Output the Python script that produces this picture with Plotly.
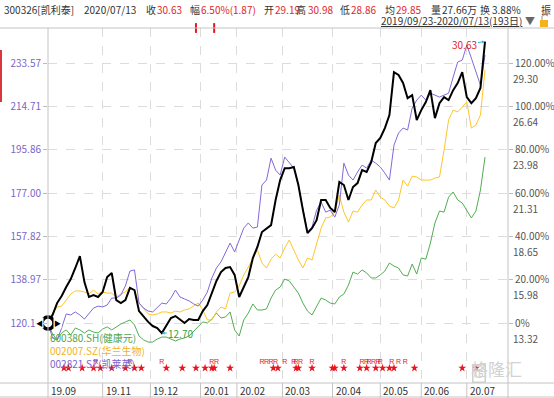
import plotly.graph_objects as go

# ---------------- data (percent change since 2019/09/23, sampled every 2 trading days) ----------------
sample_idx = list(range(0, 193, 2))

kelitai_pct = [  # 300326 凯利泰 (black)
    0, 3.7, 9.2, 12.5, 16.6, 20.3, 25.4, 30.9, 18.9, 12.0,
    12.9, 12.0, 14.3, 21.2, 23.1, 10.6, 9.2, 10.6, 16.2, 15.2,
    5.5, 2.8, 0.5, -1.4, -2.3, -4.65, -0.9, 2.3, 3.2, 1.4,
    0.0, 1.8, 1.4, 1.4, 5.5, 8.3, 14.3, 19.4, 23.5, 25.4,
    25.8, 22.2, 12.0, 16.6, 21.2, 30.0, 35.1, 42.0, 43.4, 45.2,
    56.8, 66.0, 71.5, 71.5, 72.0, 63.7, 52.1, 41.5, 43.8, 47.5,
    56.8, 56.8, 53.1, 51.2, 65.1, 63.7, 56.8, 62.8, 64.6, 70.6,
    69.7, 74.3, 83.1, 85.4, 90.0, 96.0, 115.8, 114.5, 110.8, 103.8,
    105.2, 93.7, 98.3, 102.0, 107.5, 94.6, 101.5, 104.3, 102.9, 107.5,
    110.8, 115.8, 104.3, 101.5, 103.8, 108.5, 129.95,
]
kailaiying_pct = [  # 002821.SZ 凯莱英 (purple)
    0, -6.9, -7.8, -2.3, 4.2, 3.7, 5.1, 3.7, 1.8, 4.2,
    6.9, 7.8, 7.4, 8.3, 11.5, 11.5, 12.9, 17.1, 24.0, 24.5,
    9.2, 6.9, 5.5, 5.1, 7.4, 9.2, 8.8, 11.5, 15.2, 12.0,
    11.1, 10.2, 8.8, 7.8, 10.6, 14.3, 20.8, 25.4, 28.2, 32.3,
    36.9, 32.8, 38.3, 43.8, 46.2, 43.8, 44.3, 63.7, 66.0, 76.1,
    70.6, 68.3, 76.6, 74.3, 71.5, 63.7, 52.1, 42.0, 44.3, 52.1,
    55.8, 51.2, 52.1, 48.9, 54.5, 73.8, 68.3, 66.0, 69.7, 72.9,
    71.5, 75.2, 73.8, 72.0, 69.2, 66.0, 82.1, 87.7, 90.0, 89.1,
    99.2, 102.9, 105.2, 102.9, 106.1, 105.2, 104.3, 105.2, 106.1, 113.5,
    120.5, 121.4, 128.3, 122.3, 115.8, 109.8, 123.7,
]
hualan_pct = [  # 002007.SZ 华兰生物 (yellow)
    0, 4.6, 7.4, 7.8, 10.6, 13.4, 14.8, 14.8, 14.3, 13.4,
    15.2, 13.4, 14.3, 13.8, 13.8, 12.0, 13.4, 14.3, 16.6, 15.2,
    9.2, 6.5, 4.2, 3.7, 4.2, 5.1, 5.1, 4.6, 5.5, 5.1,
    6.0, 6.5, 7.8, 9.2, 6.0, 1.4, 1.4, 5.1, 7.4, 6.5,
    13.8, 14.3, 17.1, 22.2, 25.8, 30.0, 33.7, 27.7, 25.4, 29.5,
    31.8, 30.0, 34.6, 38.3, 33.7, 29.1, 25.4, 30.0, 29.1, 36.0,
    43.8, 48.5, 48.9, 51.2, 59.1, 51.2, 46.6, 51.7, 51.2, 54.5,
    56.8, 56.8, 61.4, 58.1, 56.8, 54.0, 53.1, 56.8, 66.0, 63.2,
    67.8, 67.4, 66.0, 66.0, 66.0, 66.9, 67.4, 79.8, 93.7, 98.3,
    97.4, 99.7, 102.0, 90.0, 91.4, 96.0, 116.8,
]
jiankangyuan_pct = [  # 600380.SH 健康元 (green)
    0, -5.1, -7.8, -4.6, -3.2, -5.5, -2.3, -3.2, -4.6, -3.2,
    -4.2, -4.6, -2.8, -1.8, -3.2, -1.8, -0.5, 0.5, 1.4, -0.9,
    -6.0, -7.8, -8.8, -8.8, -7.4, -6.5, -6.5, -7.4, -8.3, -7.4,
    -6.9, -6.0, -3.7, -1.8, 0.5, 0.0, 1.8, 4.6, 2.3, 2.8,
    5.1, -3.2, -6.0, 1.4, 4.6, 8.8, 6.0, 6.0, 6.5, 11.5,
    15.2, 16.6, 20.3, 19.4, 16.6, 13.8, 9.2, 5.5, 3.7, 7.4,
    11.5, 10.6, 9.2, 8.8, 12.0, 13.4, 17.5, 23.5, 22.6, 24.5,
    23.1, 20.8, 20.8, 22.2, 24.0, 27.7, 26.3, 25.4, 22.2, 21.7,
    27.2, 22.6, 30.0, 29.5, 36.9, 46.2, 51.7, 51.2, 58.1, 60.5,
    56.8, 55.4, 52.1, 48.5, 51.7, 61.4, 76.6,
]

month_idx = [0, 24, 45, 67, 83, 103, 125, 146, 164, 184]
month_labels = ["19.09", "19.11", "19.12", "20.01", "20.02", "20.03", "20.04", "20.05", "20.06", "20.07"]

grid_pct = [0, 20, 40, 60, 80, 100, 120]
left_labels = ["120.10", "138.97", "157.82", "177.00", "195.86", "214.71", "233.57"]
pct_labels = ["0%", "20.00%", "40.00%", "60.00%", "80.00%", "100.00%", "120.00%"]
price_labels = ["13.32", "15.98", "18.65", "21.31", "23.98", "26.64", "29.30"]

star_idx = [7, 9, 15, 20, 23, 28, 34, 38, 41, 52, 59, 65, 69, 72, 73, 80, 99, 101, 109, 110,
            116, 125, 126, 130, 137, 140, 144, 147, 150, 152, 161, 182, 188]
r_idx = [21, 36, 50, 72, 74, 94, 96, 98, 100, 104, 108, 109, 111, 116, 130, 138, 140, 141, 143,
         145, 146, 151, 154, 157]
top_mark_idx = [65, 73]

max_label, min_label = "30.63", "12.70"

header_items = [  # (text, color, left px)
    ("300326[凯利泰]", "#333333", 2), ("2020/07/13", "#333333", 82),
    ("收", "#333333", 144), ("30.63", "#e0262b", 155),
    ("幅", "#333333", 188), ("6.50%(1.87)", "#e0262b", 199),
    ("开", "#333333", 262), ("29.19", "#e0262b", 273),
    ("高", "#333333", 294), ("30.98", "#e0262b", 306),
    ("低", "#333333", 338), ("28.86", "#e0262b", 349),
    ("均", "#333333", 383), ("29.85", "#e0262b", 394),
    ("量", "#333333", 429), ("27.66万", "#333333", 440),
    ("换", "#333333", 478), ("3.88%", "#333333", 490),
    ("振", "#333333", 539),
]
legend_items = [("600380.SH(健康元)", "#4fa64f"), ("002007.SZ(华兰生物)", "#f0b41c"), ("002821.SZ(凯莱英)", "#7a62cc")]

# ---------------- layout geometry ----------------
W, H = 554, 398
L, R, T, B = 48, 46, 28, 15
PW, PH = W - L - R, H - T - B
Y_RANGE = [-27.7, 136.2]
X_RANGE = [0, 202.1]
STAR_Y, R_Y = -20.8, -17.9
FONT = "Noto Sans CJK SC, Noto Sans, sans-serif"


def xp(px):
    return (px - L) / PW


def yp(py):
    return (H - B - py) / PH


C_BLACK, C_PURPLE, C_YELLOW, C_GREEN = "#000000", "#8468d8", "#ffc629", "#53ad53"
GRID = "#dcdcdc"
AXIS = "#c4c4c4"

fig = go.Figure()
fig.add_trace(go.Scatter(x=sample_idx, y=jiankangyuan_pct, mode="lines", line=dict(color=C_GREEN, width=1), name="600380.SH"))
fig.add_trace(go.Scatter(x=sample_idx, y=hualan_pct, mode="lines", line=dict(color=C_YELLOW, width=1), name="002007.SZ"))
fig.add_trace(go.Scatter(x=sample_idx, y=kailaiying_pct, mode="lines", line=dict(color=C_PURPLE, width=1), name="002821.SZ"))
fig.add_trace(go.Scatter(x=sample_idx, y=kelitai_pct, mode="lines", line=dict(color=C_BLACK, width=2), name="300326"))

# event markers
fig.add_trace(go.Scatter(x=star_idx, y=[STAR_Y] * len(star_idx), mode="markers",
                         marker=dict(symbol="star", size=6, color="#e8141e", line=dict(width=0))))
fig.add_trace(go.Scatter(x=r_idx, y=[R_Y] * len(r_idx), mode="text", text=["R"] * len(r_idx),
                         textfont=dict(size=7, color="#e8141e", family="Liberation Sans")))
fig.add_trace(go.Scatter(x=top_mark_idx, y=[Y_RANGE[1]] * len(top_mark_idx), mode="markers", cliponaxis=False,
                         marker=dict(symbol="line-ns", size=7, line=dict(color="#e8141e", width=2))))
# start ring
fig.add_trace(go.Scatter(x=[sample_idx[0]], y=[kelitai_pct[0]], mode="markers", cliponaxis=False,
                         marker=dict(symbol="circle", size=12, color="white", line=dict(color="black", width=3.5))))
# dummy trace so that the right axis is drawn
fig.add_trace(go.Scatter(x=[sample_idx[0]], y=[0], yaxis="y2", mode="markers", marker=dict(opacity=0),
                         hoverinfo="skip"))

annotations = []
# header
for text, color, px in header_items:
    annotations.append(dict(text=text, x=xp(px), y=yp(9), xref="paper", yref="paper", xanchor="left",
                            yanchor="middle", showarrow=False, font=dict(size=10, color=color, family=FONT)))
annotations.append(dict(text="<u>2019/09/23-2020/07/13(193日)</u>", x=xp(524), y=yp(20), xref="paper", yref="paper",
                        xanchor="right", yanchor="middle", showarrow=False,
                        font=dict(size=10, color="#333333", family=FONT)))
annotations.append(dict(text="▼", x=xp(530), y=yp(20), xref="paper", yref="paper", xanchor="center",
                        yanchor="middle", showarrow=False, font=dict(size=10, color="#666666")))
# month labels
for i, lab in zip(month_idx, month_labels):
    annotations.append(dict(text=lab, x=i, y=yp(390), xref="x", yref="paper", xanchor="left", yanchor="middle",
                            xshift=1, showarrow=False, font=dict(size=10, color="#333333", family=FONT)))
# right price labels
for v, lab in zip(grid_pct, price_labels):
    annotations.append(dict(text=lab, x=1, y=v, xref="paper", yref="y", xanchor="left", yanchor="middle",
                            xshift=3, yshift=-15, showarrow=False, font=dict(size=10, color="#555555", family=FONT)))
# legend labels
for k, (text, color) in enumerate(legend_items):
    annotations.append(dict(text=text, x=0, y=yp(337 + 13 * k), xref="paper", yref="paper", xanchor="left",
                            yanchor="middle", showarrow=False, font=dict(size=10, color=color, family=FONT)))
# max / min labels
imax = kelitai_pct.index(max(kelitai_pct))
imin = kelitai_pct.index(min(kelitai_pct))
annotations.append(dict(text=max_label, x=sample_idx[imax], y=kelitai_pct[imax], xref="x", yref="y",
                        ax=-21, ay=3, showarrow=True, arrowhead=2, arrowsize=0.6, arrowwidth=1,
                        arrowcolor="#35b7d6", font=dict(size=10, color="#e0262b", family=FONT)))
annotations.append(dict(text=min_label, x=sample_idx[imin], y=kelitai_pct[imin], xref="x", yref="y",
                        ax=19, ay=0, showarrow=True, arrowhead=2, arrowsize=0.6, arrowwidth=1,
                        arrowcolor="#35b7d6", font=dict(size=10, color="#3aa04a", family=FONT)))
# start ring side arrows
for sh, sym in ((-9, "◀"), (9, "▶")):
    annotations.append(dict(text=sym, x=sample_idx[0], y=kelitai_pct[0], xref="x", yref="y", xshift=sh,
                            showarrow=False, bgcolor="white", borderpad=0,
                            font=dict(size=7, color="black")))
# watermark
annotations.append(dict(text="G", x=xp(486), y=yp(383), xref="paper", yref="paper", showarrow=False,
                        bordercolor="#cfcfcf", borderwidth=1.5, borderpad=1,
                        font=dict(size=12, color="#cfcfcf", family="Liberation Sans")))
annotations.append(dict(text="格隆汇", x=xp(524), y=yp(383), xref="paper", yref="paper", showarrow=False,
                        font=dict(size=17, color="#d2d2d2", family=FONT)))

shapes = []
line_style = dict(color=AXIS, width=1)
# top separator, bottom border, axis-band line
for py in (28, 383, 397):
    shapes.append(dict(type="line", xref="paper", yref="paper", x0=xp(0), x1=xp(W), y0=yp(py), y1=yp(py), line=line_style))
# left and right frame lines running down through the label band
for px in (48, 508):
    shapes.append(dict(type="line", xref="paper", yref="paper", x0=xp(px), x1=xp(px), y0=yp(398), y1=yp(28), line=line_style))
# separators in the date band
for i in month_idx[1:]:
    shapes.append(dict(type="line", xref="x", yref="paper", x0=i, x1=i, y0=yp(398), y1=yp(383), line=line_style))
# red bar on left edge
shapes.append(dict(type="rect", xref="paper", yref="paper", x0=xp(0), x1=xp(2), y0=yp(102), y1=yp(50),
                   line=dict(width=0), fillcolor="#d9363e"))
# lock icon
shapes.append(dict(type="rect", xref="paper", yref="paper", x0=xp(540), x1=xp(548), y0=yp(27), y1=yp(20),
                   line=dict(width=0), fillcolor="#f5b21c"))
shapes.append(dict(type="path", xref="paper", yref="paper",
                   path=f"M {xp(542)} {yp(20)} L {xp(542)} {yp(16)} Q {xp(545)} {yp(13)} {xp(548)} {yp(16)}",
                   line=dict(color="#999999", width=1)))

fig.update_layout(
    template="none",
    width=W, height=H, margin=dict(l=L, r=R, t=T, b=B, pad=0, autoexpand=False),
    paper_bgcolor="white", plot_bgcolor="white", showlegend=False,
    font=dict(family=FONT, size=10, color="#333333"),
    xaxis=dict(range=X_RANGE, tickvals=month_idx[1:], showticklabels=False, ticks="", automargin=False,
               showgrid=True, gridcolor=GRID, griddash="dash", gridwidth=1, zeroline=False, showline=False),
    yaxis=dict(range=Y_RANGE, tickvals=grid_pct, ticktext=left_labels, ticks="outside", ticklen=4,
               automargin=False, tickcolor="#bbbbbb", tickfont=dict(size=10, color="#7a66c8", family=FONT),
               showgrid=True, gridcolor=GRID, griddash="dash", gridwidth=1, zeroline=False, showline=False),
    yaxis2=dict(range=Y_RANGE, overlaying="y", side="right", tickvals=grid_pct, ticktext=pct_labels,
                automargin=False, ticks="outside", ticklen=4, tickcolor="#bbbbbb", showgrid=False,
                zeroline=False, showline=False, tickfont=dict(size=10, color="#555555", family=FONT)),
    annotations=annotations, shapes=shapes,
)

fig.write_html("out.html", config={"displayModeBar": False},
               post_script="document.body.style.margin='0px';document.body.style.overflow='hidden';")
